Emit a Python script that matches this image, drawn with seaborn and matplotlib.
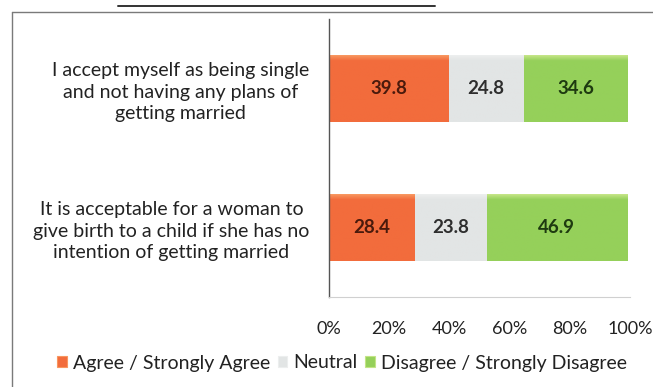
import numpy as np
import pandas as pd
import matplotlib
matplotlib.use("Agg")
import matplotlib.pyplot as plt
from matplotlib.colors import LinearSegmentedColormap
from matplotlib.patches import Patch
from matplotlib.lines import Line2D
import seaborn as sns

# Survey statements and response shares (%)
statements = [
    "I accept myself as being single\nand not having any plans of\ngetting married",
    "It is acceptable for a woman to\ngive birth to a child if she has no\nintention of getting married",
]
responses = ["Agree / Strongly Agree", "Neutral", "Disagree / Strongly Disagree"]
agree = [39.8, 28.4]
neutral = [24.8, 23.8]
disagree = [34.6, 46.9]
x_ticks = [0, 20, 40, 60, 80, 100]
x_tick_labels = ["0%", "20%", "40%", "60%", "80%", "100%"]

colors = {"Agree / Strongly Agree": "#F26C3C",
          "Neutral": "#E2E5E5",
          "Disagree / Strongly Disagree": "#95D05A"}
tops = {"Agree / Strongly Agree": "#F8965F",
        "Neutral": "#ECEEEE",
        "Disagree / Strongly Disagree": "#C3E486"}
text_colors = {"Agree / Strongly Agree": "#4A1A0C",
               "Neutral": "#2E2E2E",
               "Disagree / Strongly Disagree": "#1E3A10"}

sns.set_theme(style="white")
plt.rcParams["font.family"] = ["Lato", "DejaVu Sans"]

df = pd.DataFrame({"statement": statements, "agree": agree,
                   "neutral": neutral, "disagree": disagree})
df["c1"] = df["agree"]
df["c2"] = df["agree"] + df["neutral"]
df["c3"] = df["c2"] + df["disagree"]

fig = plt.figure(figsize=(6.53, 3.87), dpi=100)
ax = fig.add_axes([329 / 653, 1 - 297 / 387, (630 - 329) / 653, (297 - 19) / 387])

# Stacked bars: draw cumulative totals from the widest layer down
layers = [("c3", responses[2]), ("c2", responses[1]), ("c1", responses[0])]
for col, name in layers:
    sns.barplot(data=df, x=col, y="statement", orient="h", color=colors[name],
                width=0.48, saturation=1, ax=ax, edgecolor="none")

# Soft vertical shading on each bar segment
patch_names = []
for col, name in layers:
    patch_names += [name] * len(df)
for patch, name in zip(ax.patches, patch_names):
    x0, y0 = patch.get_x(), patch.get_y()
    w, h = patch.get_width(), patch.get_height()
    cmap = LinearSegmentedColormap.from_list(
        "shade", [(0, tops[name]), (0.08, colors[name]), (1, colors[name])])
    grad = np.linspace(0, 1, 64).reshape(-1, 1)
    im = ax.imshow(grad, cmap=cmap, aspect="auto",
                   extent=(x0, x0 + w, y0 + h, y0), zorder=patch.get_zorder() + 0.1)
    im.set_clip_path(patch)

# Value labels centred in each segment
for i, row in df.iterrows():
    starts = [0, row["c1"], row["c2"]]
    vals = [row["agree"], row["neutral"], row["disagree"]]
    for s, v, name in zip(starts, vals, responses):
        ax.text(s + v / 2, i, f"{v:.1f}", ha="center", va="center",
                fontsize=13.5, fontweight="bold", color=text_colors[name], zorder=5)

ax.set_xlim(0, 100)
ax.set_ylim(1.5, -0.5)
ax.set_xticks(x_ticks)
ax.set_xticklabels(x_tick_labels, fontsize=13, color="#222222")
ax.tick_params(axis="x", length=0, pad=17)
ax.tick_params(axis="y", length=0, pad=14)
ax.set_yticks(range(len(statements)))
ax.set_yticklabels(statements, fontsize=14, color="#222222", multialignment="center",
                   linespacing=1.3)
ax.set_xlabel("")
ax.set_ylabel("")
for side in ["top", "right"]:
    ax.spines[side].set_visible(False)
ax.spines["left"].set_color("#555555")
ax.spines["left"].set_linewidth(1.0)
ax.spines["bottom"].set_color("#D0D0D0")
ax.spines["bottom"].set_linewidth(0.8)

# Legend
handles = [Patch(facecolor=colors[r], edgecolor=tops[r], linewidth=0.8) for r in responses]
fig.legend(handles, responses, loc="center", bbox_to_anchor=(342 / 653, 1 - 363 / 387),
           ncol=3, frameon=False, fontsize=14, handlelength=0.5, handleheight=0.5,
           handletextpad=0.3, columnspacing=0.4, labelcolor="#222222")

# Chart frame and title underline
fig.add_artist(Line2D([12 / 653, 1.0], [1 - 12 / 387] * 2, color="#7A7A7A", lw=1.0))
fig.add_artist(Line2D([12 / 653] * 2, [0.0, 1 - 12 / 387], color="#7A7A7A", lw=1.0))
fig.add_artist(Line2D([118 / 653, 435 / 653], [1 - 5.5 / 387] * 2, color="#333333", lw=1.4))

fig.savefig("out.png", dpi=100, facecolor="white")
